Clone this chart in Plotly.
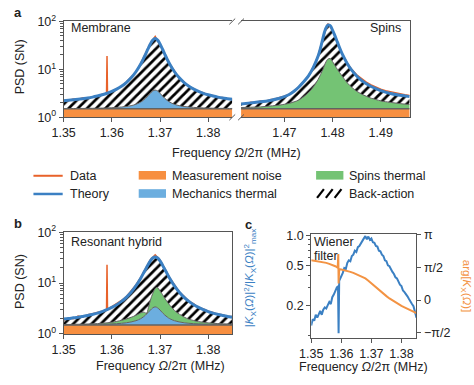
import math
import plotly.graph_objects as go

# ---------------- data ----------------
noise_psd = 1.5

# panel a, membrane window
mem_x = [1.350, 1.351, 1.352, 1.353, 1.354, 1.355, 1.356, 1.357, 1.358, 1.359, 1.360, 1.361, 1.362,
         1.363, 1.364, 1.365, 1.366, 1.3665, 1.367, 1.3675, 1.368, 1.3685, 1.369, 1.3695, 1.370,
         1.3705, 1.371, 1.3715, 1.372, 1.373, 1.374, 1.375, 1.376, 1.377, 1.378, 1.379, 1.380,
         1.381, 1.382, 1.383, 1.384, 1.385]
mem_theory = [2.22, 2.27, 2.32, 2.38, 2.45, 2.53, 2.64, 2.78, 2.95, 3.17, 3.47, 3.87, 4.46,
              5.32, 6.67, 8.92, 12.95, 16.19, 20.65, 26.65, 33.95, 40.85, 43.85, 40.85, 33.95,
              26.65, 20.65, 16.19, 12.95, 8.92, 6.67, 5.32, 4.46, 3.87, 3.47, 3.17, 2.95,
              2.78, 2.64, 2.53, 2.45, 2.38]
mem_thermal = [1.52, 1.522, 1.524, 1.528, 1.531, 1.536, 1.541, 1.548, 1.557, 1.57, 1.585, 1.61, 1.64,
               1.68, 1.75, 1.87, 2.08, 2.25, 2.485, 2.80, 3.18, 3.54, 3.70, 3.54, 3.18,
               2.80, 2.485, 2.25, 2.08, 1.87, 1.75, 1.68, 1.64, 1.61, 1.585, 1.57, 1.557,
               1.548, 1.541, 1.536, 1.531, 1.528]
mem_data_x = [1.350, 1.351, 1.352, 1.353, 1.354, 1.355, 1.356, 1.357, 1.358, 1.3589, 1.359, 1.3591,
              1.360, 1.361, 1.362, 1.363, 1.364, 1.365, 1.366, 1.367, 1.368, 1.369, 1.370, 1.371,
              1.372, 1.373, 1.374, 1.375, 1.376, 1.377, 1.378, 1.379, 1.380, 1.381, 1.382, 1.383,
              1.384, 1.385]
mem_data = [2.30, 2.21, 2.42, 2.35, 2.55, 2.47, 2.70, 2.74, 3.02, 3.10, 19.0, 3.20,
            3.52, 3.95, 4.40, 5.45, 6.80, 8.70, 13.4, 21.5, 35.0, 49.0, 33.0, 21.2,
            13.2, 9.1, 6.5, 5.45, 4.40, 3.95, 3.40, 3.25, 2.90, 2.85, 2.60, 2.58,
            2.40, 2.42]

# panel a, spins window
spin_x = [1.461, 1.463, 1.465, 1.467, 1.469, 1.470, 1.471, 1.472, 1.473, 1.474, 1.475, 1.476, 1.477,
          1.4775, 1.478, 1.4785, 1.479, 1.4795, 1.480, 1.4805, 1.481, 1.482, 1.483, 1.484, 1.485,
          1.486, 1.487, 1.488, 1.489, 1.490, 1.492, 1.494, 1.496]
spin_theory = [1.9, 2.0, 2.1, 2.25, 2.5, 2.7, 3.0, 3.5, 4.3, 5.5, 7.3, 11, 19,
               28, 45, 68, 84, 82, 65, 50, 37, 21, 13.5, 9.5, 7.3,
               5.9, 5.0, 4.4, 3.95, 3.6, 3.15, 2.88, 2.7]
spin_thermal = [1.6, 1.62, 1.65, 1.72, 1.8, 1.87, 1.95, 2.1, 2.3, 2.7, 3.3, 4.3, 6.2,
                7.8, 10, 13.5, 16.3, 16.8, 14.5, 12, 10, 7.2, 5.3, 4.2, 3.5,
                3.05, 2.75, 2.5, 2.35, 2.2, 2.05, 1.93, 1.85]
spin_data_x = [1.461, 1.462, 1.463, 1.464, 1.465, 1.466, 1.467, 1.468, 1.469, 1.470, 1.471, 1.472,
               1.473, 1.474, 1.475, 1.476, 1.477, 1.478, 1.479, 1.480, 1.481, 1.482, 1.483, 1.484,
               1.485, 1.486, 1.487, 1.488, 1.489, 1.490, 1.491, 1.492, 1.493, 1.494, 1.495, 1.496]
spin_data = [1.95, 1.90, 2.05, 2.02, 2.18, 2.15, 2.32, 2.40, 2.58, 2.75, 3.05, 3.55,
             4.35, 5.60, 7.40, 11.2, 19.5, 44, 90, 66, 38, 21, 13.8, 9.9,
             7.7, 6.3, 5.4, 4.75, 4.25, 3.85, 3.6, 3.4, 3.2, 3.05, 2.95, 2.85]

# panel b, resonant hybrid
hyb_x = mem_x
hyb_theory = [1.96, 2.01, 2.07, 2.13, 2.21, 2.30, 2.42, 2.56, 2.75, 2.99, 3.32, 3.75, 4.36,
              5.25, 6.6, 8.8, 12.5, 15.2, 18.65, 22.85, 27.45, 31.25, 32.8, 31.25, 27.45,
              22.85, 18.65, 15.2, 12.5, 8.8, 6.6, 5.25, 4.36, 3.75, 3.32, 2.99, 2.75,
              2.56, 2.42, 2.30, 2.21, 2.13]
hyb_mech = [1.517, 1.519, 1.521, 1.524, 1.527, 1.531, 1.536, 1.542, 1.55, 1.56, 1.573, 1.59, 1.618,
            1.657, 1.72, 1.82, 2.0, 2.15, 2.35, 2.62, 2.95, 3.26, 3.4, 3.26, 2.95,
            2.62, 2.35, 2.15, 2.0, 1.82, 1.72, 1.657, 1.618, 1.59, 1.573, 1.56, 1.55,
            1.542, 1.536, 1.531, 1.527, 1.524]
hyb_spin_x = [1.350, 1.353, 1.356, 1.358, 1.360, 1.362, 1.363, 1.364, 1.365, 1.3655, 1.366, 1.3665,
              1.367, 1.3672, 1.3676, 1.368, 1.3685, 1.369, 1.3693, 1.3697, 1.370, 1.3705, 1.371,
              1.372, 1.373, 1.374, 1.375, 1.376, 1.378, 1.380, 1.382, 1.385]
hyb_spin = [1.53, 1.55, 1.58, 1.62, 1.70, 1.85, 1.97, 2.12, 2.32, 2.45, 2.6, 2.68,
            2.6, 2.5, 3.3, 4.6, 6.3, 7.8, 8.2, 7.8, 7.0, 6.0, 5.0,
            3.7, 2.9, 2.45, 2.15, 1.95, 1.75, 1.65, 1.6, 1.56]
hyb_data_x = mem_data_x
hyb_data = [1.85, 2.05, 1.98, 2.25, 2.15, 2.40, 2.50, 2.65, 2.85, 2.95, 23.0, 3.05,
            3.45, 3.90, 4.55, 5.40, 6.9, 9.2, 13.0, 19.5, 29.0, 36.0, 28.5, 19.2,
            12.8, 9.3, 6.7, 5.5, 4.4, 3.9, 3.3, 3.1, 2.8, 2.65, 2.45, 2.38,
            2.2, 2.2]

# panel c, Wiener filter
wf_x = [1.3500, 1.3505, 1.3510, 1.3515, 1.3520, 1.3525, 1.3530, 1.3535, 1.3540, 1.3545, 1.3550,
        1.3555, 1.3560, 1.3565, 1.3570, 1.3575, 1.3580, 1.3585, 1.3589, 1.3591, 1.3593, 1.3595,
        1.3600, 1.3605, 1.3610, 1.3615, 1.3620, 1.3625, 1.3630, 1.3635, 1.3640, 1.3645, 1.3650,
        1.3655, 1.3660, 1.3665, 1.3670, 1.3675, 1.3680, 1.3685, 1.3690, 1.3695, 1.3700, 1.3705,
        1.3710, 1.3715, 1.3720, 1.3725, 1.3730, 1.3735, 1.3740, 1.3745, 1.3750, 1.3755, 1.3760,
        1.3765, 1.3770, 1.3775, 1.3780, 1.3785, 1.3790, 1.3795, 1.3800, 1.3805, 1.3810, 1.3815,
        1.3820, 1.3825, 1.3830, 1.3835, 1.3840, 1.3845, 1.3850]
wf_mag = [0.125, 0.145, 0.14, 0.16, 0.15, 0.165, 0.175, 0.16, 0.18, 0.19, 0.185,
          0.2, 0.215, 0.205, 0.24, 0.255, 0.28, 0.30, 0.31, 0.105, 0.35, 0.36,
          0.40, 0.42, 0.47, 0.46, 0.53, 0.56, 0.55, 0.62, 0.64, 0.70, 0.68,
          0.76, 0.78, 0.82, 0.86, 0.93, 0.98, 0.91, 0.97, 0.90, 0.93, 0.85,
          0.84, 0.78, 0.77, 0.70, 0.69, 0.64, 0.62, 0.56, 0.55, 0.50, 0.49,
          0.45, 0.43, 0.41, 0.38, 0.37, 0.34, 0.32, 0.31, 0.28, 0.27, 0.26,
          0.245, 0.23, 0.22, 0.205, 0.195, 0.175, 0.15]
ph_x = [1.350, 1.351, 1.352, 1.353, 1.354, 1.355, 1.356, 1.357, 1.358, 1.3588, 1.359, 1.3591,
        1.3593, 1.360, 1.361, 1.362, 1.363, 1.364, 1.365, 1.366, 1.367, 1.368, 1.369, 1.370,
        1.371, 1.372, 1.373, 1.374, 1.375, 1.376, 1.377, 1.378, 1.379, 1.380, 1.381, 1.382,
        1.383, 1.384, 1.385]
ph_val = [1.91, 1.89, 1.87, 1.85, 1.81, 1.78, 1.73, 1.68, 1.62, 1.55, 2.2, 0.8,
          1.48, 1.46, 1.43, 1.39, 1.35, 1.30, 1.24, 1.17, 1.11, 1.04, 0.93, 0.80,
          0.68, 0.55, 0.42, 0.30, 0.19, 0.08, -0.02, -0.12, -0.20, -0.28, -0.35, -0.42,
          -0.49, -0.56, -0.62]

psd_ticks = [1, 10, 100]
psd_ticktext = ['10<sup>0</sup>', '10<sup>1</sup>', '10<sup>2</sup>']
psd_minor = [2, 3, 4, 5, 6, 7, 8, 9, 20, 30, 40, 50, 60, 70, 80, 90]
mem_ticks = [1.35, 1.36, 1.37, 1.38]
spin_ticks = [1.47, 1.48, 1.49]
wf_ticks = [1.0, 0.5, 0.2]
wf_ticktext = ['1.0', '0.5', '0.2']
wf_minor = [0.1, 0.3, 0.4, 0.6, 0.7, 0.8, 0.9]
ph_ticks = [math.pi, math.pi / 2, 0, -math.pi / 2]
ph_ticktext = ['π', 'π/2', '0', '−π/2']

# ---------------- style ----------------
W, H = 474, 385
def X(p): return p / W
def Y(p): return 1 - p / H

C_DATA = '#e8622a'
C_THEORY = '#3b80c3'
C_NOISE = '#f78f40'
C_MECH = '#6caedf'
C_SPIN = '#74c374'
C_EDGE = '#626262'
C_AX = '#555555'
C_PH = '#f39343'
FONT = 'Liberation Sans, Arial, sans-serif'
FS = 12.5

fig = go.Figure()

def tr(x, y, xa, ya, **kw):
    fig.add_trace(go.Scatter(x=x, y=y, xaxis=xa, yaxis=ya, mode='lines', hoverinfo='skip',
                             showlegend=False, **kw))

def hatch():
    return dict(shape='/', fgcolor='black', bgcolor='white', fgopacity=1, size=6.5, solidity=0.42)

# panel a left
xr_m = [mem_x[0], mem_x[-1]]
tr(xr_m, [noise_psd] * 2, 'x', 'y', fill='tozeroy', fillcolor=C_NOISE, line=dict(color=C_EDGE, width=1.5))
tr(mem_x, mem_thermal, 'x', 'y', fill='tonexty', fillcolor=C_MECH, line=dict(color=C_EDGE, width=1, shape='spline'))
tr(mem_x, mem_theory, 'x', 'y', fill='tonexty', fillcolor='white', fillpattern=hatch(), line=dict(width=0, shape='spline'))
tr(mem_data_x, mem_data, 'x', 'y', line=dict(color=C_DATA, width=1.5))
tr(mem_x, mem_theory, 'x', 'y', line=dict(color=C_THEORY, width=3, shape='spline'))

# panel a right
xr_s = [spin_x[0], spin_x[-1]]
tr(xr_s, [noise_psd] * 2, 'x2', 'y2', fill='tozeroy', fillcolor=C_NOISE, line=dict(color=C_EDGE, width=1.5))
tr(spin_x, spin_thermal, 'x2', 'y2', fill='tonexty', fillcolor=C_SPIN, line=dict(color=C_EDGE, width=1, shape='spline'))
tr(spin_x, spin_theory, 'x2', 'y2', fill='tonexty', fillcolor='white', fillpattern=hatch(), line=dict(width=0, shape='spline'))
tr(spin_data_x, spin_data, 'x2', 'y2', line=dict(color=C_DATA, width=1.5))
tr(spin_x, spin_theory, 'x2', 'y2', line=dict(color=C_THEORY, width=3, shape='spline'))

# panel b
tr(xr_m, [noise_psd] * 2, 'x3', 'y3', fill='tozeroy', fillcolor=C_NOISE, line=dict(color=C_EDGE, width=1.5))
tr(hyb_x, hyb_mech, 'x3', 'y3', fill='tonexty', fillcolor=C_MECH, line=dict(color=C_EDGE, width=1, shape='spline'))
tr(hyb_spin_x, hyb_spin, 'x3', 'y3', fill='tonexty', fillcolor=C_SPIN, line=dict(color=C_EDGE, width=1, shape='spline'))
tr(hyb_x, hyb_theory, 'x3', 'y3', fill='tonexty', fillcolor='white', fillpattern=hatch(), line=dict(width=0, shape='spline'))
tr(hyb_data_x, hyb_data, 'x3', 'y3', line=dict(color=C_DATA, width=1.5))
tr(hyb_x, hyb_theory, 'x3', 'y3', line=dict(color=C_THEORY, width=3, shape='spline'))

# panel c
tr(wf_x, wf_mag, 'x4', 'y4', line=dict(color=C_THEORY, width=2))
tr(ph_x, ph_val, 'x4', 'y5', line=dict(color=C_PH, width=2))

axline = dict(showline=True, linecolor=C_AX, linewidth=1, ticks='outside', ticklen=4,
              tickcolor=C_AX, tickwidth=1, showgrid=False, zeroline=False,
              tickfont=dict(size=FS, color='#222'))

def xax(domain, rng, tv, anchor):
    d = dict(axline)
    d.update(domain=domain, range=rng, tickvals=tv, ticktext=[f'{v:.2f}' for v in tv],
             anchor=anchor, mirror=True)
    return d

def ylog(domain, anchor, rng, tv, tt, minor, **kw):
    d = dict(axline)
    d.update(domain=domain, type='log', range=rng, tickvals=tv, ticktext=tt, anchor=anchor,
             minor=dict(ticks='outside', ticklen=2.5, tickcolor=C_AX, tickvals=minor))
    d.update(kw)
    return d

dom_a = [Y(113), Y(13)]
dom_b = [Y(339), Y(233)]
dom_c = [Y(343), Y(235)]

fig.update_layout(
    width=W, height=H, margin=dict(l=0, r=0, t=0, b=0),
    paper_bgcolor='white', plot_bgcolor='rgba(0,0,0,0)',
    font=dict(family=FONT, size=FS, color='#222'),
    showlegend=False, hovermode=False,
    xaxis=xax([X(53), X(226)], [1.35, 1.385], mem_ticks, 'y'),
    yaxis=ylog(dom_a, 'x', [0, 2], psd_ticks, psd_ticktext, psd_minor, mirror=False),
    xaxis2=xax([X(235), X(408)], [1.461, 1.496], spin_ticks, 'y2'),
    yaxis2=dict(domain=dom_a, type='log', range=[0, 2], anchor='x2', side='right',
                showline=True, linecolor=C_AX, linewidth=1, showticklabels=False,
                ticks='', showgrid=False, zeroline=False),
    xaxis3=xax([X(53), X(226)], [1.35, 1.385], mem_ticks, 'y3'),
    yaxis3=ylog(dom_b, 'x3', [0, 2], psd_ticks, psd_ticktext, psd_minor, mirror=True),
    xaxis4=xax([X(307), X(415)], [1.35, 1.385], mem_ticks, 'y4'),
    yaxis4=ylog(dom_c, 'x4', [-1.025, 0.01], wf_ticks, wf_ticktext, wf_minor, mirror=False),
    yaxis5=dict(axline, domain=dom_c, anchor='x4', overlaying='y4', side='right',
                range=[-1.80, 3.15], tickvals=ph_ticks, ticktext=ph_ticktext),
)

# break marks
shapes = []
for bx in (226, 235):
    for by in (13, 113):
        shapes.append(dict(type='line', xref='paper', yref='paper', x0=X(bx - 3), y0=Y(by + 3),
                           x1=X(bx + 3), y1=Y(by - 3), line=dict(color=C_AX, width=1)))

# legend
shapes.append(dict(type='line', xref='paper', yref='paper', x0=X(22), x1=X(52), y0=Y(174), y1=Y(174),
                   line=dict(color=C_DATA, width=2)))
shapes.append(dict(type='line', xref='paper', yref='paper', x0=X(22), x1=X(52), y0=Y(193), y1=Y(193),
                   line=dict(color=C_THEORY, width=2.5)))
for (y0, col, x0) in ((169, C_NOISE, 130), (188, C_MECH, 130), (169, C_SPIN, 312)):
    shapes.append(dict(type='rect', xref='paper', yref='paper', x0=X(x0), x1=X(x0 + 28),
                       y0=Y(y0), y1=Y(y0 + 9), fillcolor=col, line=dict(width=0)))
for k in range(3):
    sx = 313 + k * 9
    shapes.append(dict(type='line', xref='paper', yref='paper', x0=X(sx), y0=Y(197),
                       x1=X(sx + 7), y1=Y(188), line=dict(color='black', width=2.2)))
fig.update_layout(shapes=shapes)

def txt(s, x, y, xanchor='left', yanchor='middle', size=FS, color='#222', angle=0, bold=False):
    fig.add_annotation(text=('<b>%s</b>' % s) if bold else s, x=X(x), y=Y(y), xref='paper', yref='paper',
                       xanchor=xanchor, yanchor=yanchor, showarrow=False, textangle=angle,
                       font=dict(size=size, color=color, family=FONT), align='left')

txt('Data', 57, 174)
txt('Theory', 57, 193)
txt('Measurement noise', 162, 174)
txt('Mechanics thermal', 162, 193)
txt('Spins thermal', 344, 174)
txt('Back-action', 344, 193)

txt('Membrane', 58, 20)
txt('Spins', 401, 20, xanchor='right')
txt('Resonant hybrid', 58, 243)
txt('Wiener', 308, 243)
txt('filter', 308, 257.5)

freq_title = 'Frequency <i>Ω</i>/2π (MHz)'
txt(freq_title, 230, 150, xanchor='center')
txt(freq_title, 152, 373, xanchor='center')
txt(freq_title, 361, 374, xanchor='center')

txt('PSD (SN)', 8, 60, xanchor='center', angle=-90)
txt('PSD (SN)', 8, 284, xanchor='center', angle=-90)
txt('|<i>K</i><sub>X</sub>(<i>Ω</i>)|<sup>2</sup>/|<i>K</i><sub>X</sub>(<i>Ω</i>)|<sup>2</sup><sub>max</sub>',
    244, 281, xanchor='center', angle=-90, color=C_THEORY, size=11.5)
txt('arg[<i>K</i><sub>X</sub>(<i>Ω</i>)]', 466, 289, xanchor='center', angle=90, color=C_PH, size=11.5)

txt('a', 0, 4, bold=True, size=13)
txt('b', 0, 224, bold=True, size=13)
txt('c', 237, 225, bold=True, size=13)

fig.write_html('out.html', config={'displayModeBar': False, 'staticPlot': True},
               post_script="document.body.style.margin='0';document.body.style.padding='0';"
                           "document.documentElement.style.margin='0';")
